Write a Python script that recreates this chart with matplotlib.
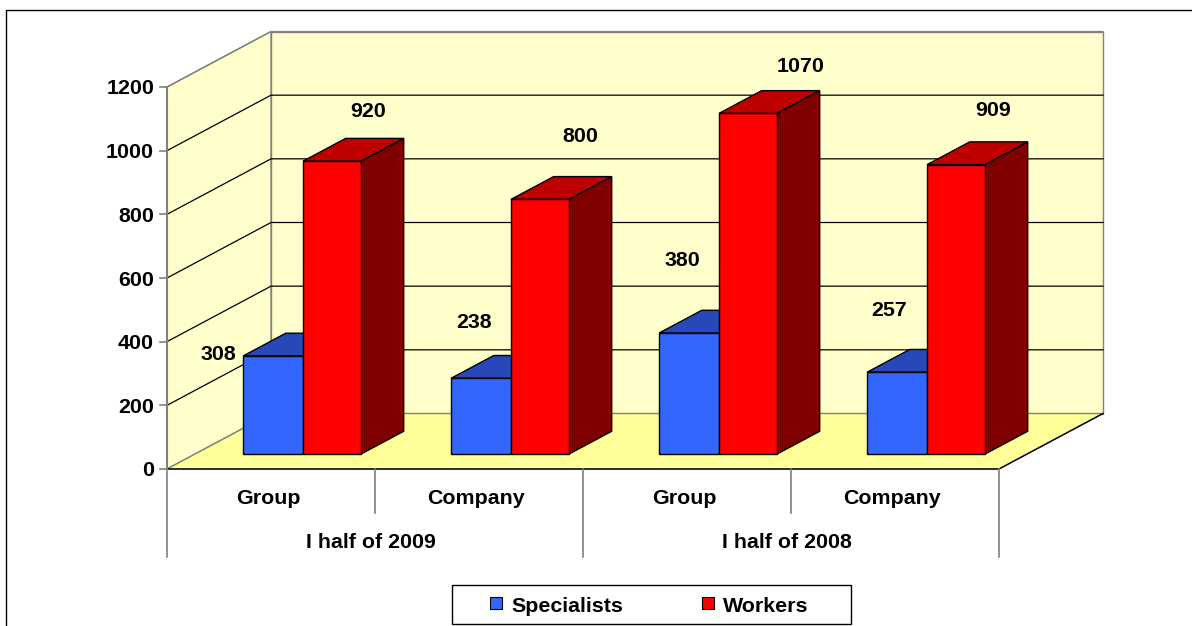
#!/usr/bin/python3

import matplotlib
matplotlib.use("Agg")
import matplotlib.pyplot as plt
from matplotlib.patches import Polygon, Rectangle

plt.rcParams['font.family'] = ['Liberation Sans', 'DejaVu Sans']

groups = ["I half of 2009", "I half of 2008"]
categories = ["Group", "Company", "Group", "Company"]
specialists = [308, 238, 380, 257]
workers = [920, 800, 1070, 909]
ticks = [0, 200, 400, 600, 800, 1000, 1200]

# label nudges from the top front corner of each bar, in pixels
spec_nudge = [(-25, -3), (23, -58), (23, -75), (22, -64)]
work_nudge = [(65, -52), (69, -65), (82, -49), (66, -56)]

X0, Y0 = 167, 469       # front left corner of the floor
CAT_W = 208             # pixels per category
PX_PER_UNIT = 382 / 1200
DEPTH_X, DEPTH_Y = 104, 55.5
FONT = 15.4

BLUE, BLUE_TOP = "#3366FF", "#2648B8"
RED, RED_TOP, RED_SIDE = "#FF0000", "#BF0000", "#800000"
WALL, FLOOR = "#FFFFCC", "#FFFF99"
GREY = "#808080"


def proj(x, y, z=0.0):
    return (X0 + CAT_W * x + DEPTH_X * z, Y0 - PX_PER_UNIT * y - DEPTH_Y * z)


def poly(ax, pts, color, edge="black", lw=1.0, z=2):
    ax.add_patch(Polygon(pts, closed=True, facecolor=color, edgecolor=edge,
                         linewidth=lw, zorder=z, joinstyle="miter"))


def bar3d(ax, x1, x2, val, front, top, side=None, z=3):
    d1, d2 = 0.27, 0.68
    poly(ax, [proj(x1, val, d1), proj(x2, val, d1), proj(x2, val, d2), proj(x1, val, d2)], top, z=z)
    if side:
        poly(ax, [proj(x2, 0, d1), proj(x2, 0, d2), proj(x2, val, d2), proj(x2, val, d1)], side, z=z)
    poly(ax, [proj(x1, 0, d1), proj(x2, 0, d1), proj(x2, val, d1), proj(x1, val, d1)], front, z=z)


def main():
    fig = plt.figure(figsize=(11.92, 6.26), dpi=100)
    ax = fig.add_axes([0, 0, 1, 1])
    ax.set_xlim(0, 1192)
    ax.set_ylim(626, 0)
    ax.axis("off")

    # outer chart frame, cut off at the right and bottom of the picture
    ax.plot([6, 6, 1192], [626, 10, 10], color="black", lw=1.0)

    n = len(categories)
    top = ticks[-1]

    # walls and floor
    poly(ax, [proj(0, 0, 1), proj(n, 0, 1), proj(n, top, 1), proj(0, top, 1)], WALL, edge=GREY, z=1)
    poly(ax, [proj(0, 0), proj(0, top), proj(0, top, 1), proj(0, 0, 1)], WALL, edge=GREY, z=1)
    poly(ax, [proj(0, 0), proj(n, 0), proj(n, 0, 1), proj(0, 0, 1)], FLOOR, edge=GREY, z=1.5)

    # gridlines on the two walls
    for t in ticks[1:]:
        xs, ys = zip(proj(0, t), proj(0, t, 1), proj(n, t, 1))
        col = GREY if t == top else "black"
        ax.plot(xs, ys, color=col, lw=0.9, zorder=1.6)

    # floor front edge and right diagonal
    xs, ys = zip(proj(0, 0), proj(n, 0), proj(n, 0, 1))
    ax.plot(xs, ys, color="black", lw=1.0, zorder=1.7)

    # y axis with ticks
    xs, ys = zip(proj(0, 0), proj(0, top))
    ax.plot(xs, ys, color=GREY, lw=1.5, zorder=1.8)
    for t in ticks:
        px, py = proj(0, t)
        ax.plot([px - 7, px], [py, py], color=GREY, lw=1.2, zorder=1.8)
        ax.text(px - 13, py, str(t), ha="right", va="center_baseline",
                fontsize=FONT, fontweight="bold")

    # bars
    for i in range(n):
        bar3d(ax, i + 0.231, i + 0.519, specialists[i], BLUE, BLUE_TOP)
        bar3d(ax, i + 0.519, i + 0.798, workers[i], RED, RED_TOP, RED_SIDE)

        px, py = proj(i + 0.231, specialists[i], 0.27)
        ax.text(px + spec_nudge[i][0], py + spec_nudge[i][1], str(specialists[i]),
                ha="center", va="center_baseline", fontsize=FONT, fontweight="bold", zorder=5)
        px, py = proj(i + 0.519, workers[i], 0.27)
        ax.text(px + work_nudge[i][0], py + work_nudge[i][1], str(workers[i]),
                ha="center", va="center_baseline", fontsize=FONT, fontweight="bold", zorder=5)

    # category and group axis below the floor
    for i, name in enumerate(categories):
        px, py = proj(i + 0.5, 0)
        ax.text(px - 3, py + 28, name, ha="center", va="center_baseline",
                fontsize=FONT, fontweight="bold")
    for i in range(n + 1):
        px, py = proj(i, 0)
        ax.plot([px, px], [py, py + (88 if i % 2 == 0 else 44)], color=GREY, lw=1.2, zorder=1.8)
    for i, name in enumerate(groups):
        px, py = proj(2 * i + 1, 0)
        ax.text(px - 4, py + 72, name, ha="center", va="center_baseline",
                fontsize=FONT, fontweight="bold")

    # legend
    ax.add_patch(Rectangle((452, 585), 399, 39, facecolor="white", edgecolor="black", lw=1.0, zorder=4))
    for x, label, col in [(490, "Specialists", BLUE), (702, "Workers", RED)]:
        ax.add_patch(Rectangle((x, 597), 12, 12, facecolor=col, edgecolor="black", lw=0.8, zorder=5))
        ax.text(x + 21, 604, label, ha="left", va="center_baseline",
                fontsize=FONT, fontweight="bold", zorder=5)

    fig.savefig("out.png", dpi=100, facecolor="white")


if __name__ == "__main__":
    main()
